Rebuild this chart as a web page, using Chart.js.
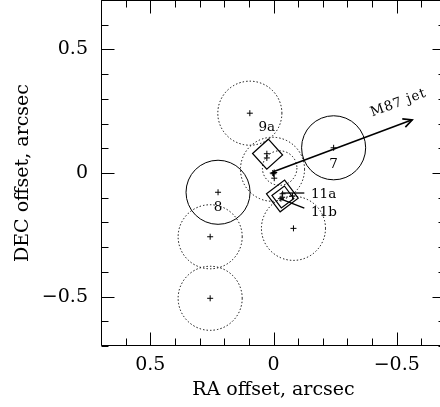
<!DOCTYPE html>
<html><head><meta charset="utf-8">
<script src="https://cdn.jsdelivr.net/npm/chart.js@4/dist/chart.umd.min.js"></script>
<style>
html,body{margin:0;padding:0;background:#fff;overflow:hidden;}
#wrap{position:absolute;left:0;top:0;width:450px;height:407px;}
</style></head><body>
<div id="wrap"><canvas id="c"></canvas></div>
<script>
// ---- data (arcsec offsets) ----
const dottedCircleX = [0.096, 0.004, -0.025, 0.257, 0.257, -0.081];
const dottedCircleY = [0.242, 0.015, 0.020, -0.258, -0.507, -0.224];
const dottedCircleR = [0.13, 0.13, 0.07, 0.13, 0.13, 0.13];

const solidCircleX = [-0.244, 0.225];
const solidCircleY = [0.102, -0.078];
const solidCircleR = [0.13, 0.13];

const crossX = [0.096, -0.244, 0.225, 0.257, 0.257, -0.081, 0.027, 0.027, 0.000, 0.003, -0.003, -0.003, -0.037, -0.030, -0.077, -0.035];
const crossY = [0.242, 0.102, -0.078, -0.258, -0.507, -0.224, 0.078, 0.061, -0.003, 0.000, 0.002, -0.021, -0.084, -0.104, -0.093, -0.098];

const diamondX = [0.024, -0.036, -0.038];
const diamondY = [0.076, -0.093, -0.097];
const diamondHalf = [0.061, 0.065, 0.045];
const diamondRot = [3, 8, 8];

const jetX = [0.001, -0.563];
const jetY = [0.005, 0.215];
const jetLabel = 'M87 jet';
const jetLabelX = -0.507;
const jetLabelY = 0.283;

const pointer11aX = [-0.031, -0.125];
const pointer11aY = [-0.081, -0.081];
const pointer11bX = [-0.031, -0.125];
const pointer11bY = [-0.106, -0.142];

const labelText = ['7', '8', '9a', '11a', '11b'];
const labelX = [-0.244, 0.225, 0.027, -0.152, -0.152];
const labelY = [0.035, -0.139, 0.183, -0.089, -0.159];
const labelAlign = ['center', 'center', 'center', 'left', 'left'];

const xTickValues = [0.5, 0, -0.5];
const xTickText = ['0.5', '0', '\u22120.5'];
const yTickValues = [0.5, 0, -0.5];
const yTickText = ['0.5', '0', '\u22120.5'];
const xTitle = 'RA offset, arcsec';
const yTitle = 'DEC offset, arcsec';

// ---- build ----
const zip = (xs, ys, rs) => xs.map((x, i) => ({x, y: ys[i], rr: rs ? rs[i] : 0}));
const pxRadius = ctx => {
  const s = ctx.chart.scales.x;
  const d = ctx.raw;
  return Math.abs(s.getPixelForValue(d.x + d.rr) - s.getPixelForValue(d.x));
};

const FONT = "'DejaVu Serif'";
Chart.defaults.font.family = FONT;
Chart.defaults.color = '#000';

const ticksPlugin = {
  id: 'frameTicks',
  afterDraw(chart) {
    const {ctx, chartArea: a, scales: {x, y}} = chart;
    ctx.save();
    ctx.strokeStyle = '#000';
    ctx.lineWidth = 1;
    ctx.beginPath();
    const L = Math.round(a.left) + 0.5, R = Math.round(a.right) - 0.5;
    const T = Math.round(a.top) + 0.5, B = Math.round(a.bottom) - 0.5;
    ctx.rect(L, T, R - L, B - T);
    const isMajor = v => Math.abs(v * 2 - Math.round(v * 2)) < 1e-6;
    x.ticks.forEach(t => {
      const p = Math.round(x.getPixelForValue(t.value)) + 0.5;
      const len = isMajor(t.value) ? 13 : 7;
      ctx.moveTo(p, B); ctx.lineTo(p, B - len);
      ctx.moveTo(p, T); ctx.lineTo(p, T + len);
    });
    y.ticks.forEach(t => {
      const p = Math.round(y.getPixelForValue(t.value)) + 0.5;
      const len = isMajor(t.value) ? 13 : 7;
      ctx.moveTo(L, p); ctx.lineTo(L + len, p);
      ctx.moveTo(R, p); ctx.lineTo(R - len, p);
    });
    ctx.stroke();
    ctx.restore();
  }
};

const dashPlugin = {
  id: 'dotted',
  beforeDatasetDraw(chart, args) {
    if (chart.data.datasets[args.index].dotted) {
      chart.ctx.save();
      chart.ctx.setLineDash([1.4, 2.1]);
    }
  },
  afterDatasetDraw(chart, args) {
    if (chart.data.datasets[args.index].dotted) chart.ctx.restore();
  }
};

const annotPlugin = {
  id: 'annot',
  afterDatasetsDraw(chart) {
    const {ctx, scales: {x, y}} = chart;
    ctx.save();
    // arrow head
    const x0 = x.getPixelForValue(jetX[0]), y0 = y.getPixelForValue(jetY[0]);
    const x1 = x.getPixelForValue(jetX[1]), y1 = y.getPixelForValue(jetY[1]);
    const ang = Math.atan2(y1 - y0, x1 - x0);
    const hl = 10, ha = 26 * Math.PI / 180;
    ctx.strokeStyle = '#000';
    ctx.lineWidth = 1.6;
    ctx.beginPath();
    ctx.moveTo(x1 - hl * Math.cos(ang - ha), y1 - hl * Math.sin(ang - ha));
    ctx.lineTo(x1, y1);
    ctx.lineTo(x1 - hl * Math.cos(ang + ha), y1 - hl * Math.sin(ang + ha));
    ctx.stroke();
    // jet label
    ctx.fillStyle = '#000';
    ctx.save();
    ctx.translate(x.getPixelForValue(jetLabelX), y.getPixelForValue(jetLabelY));
    ctx.rotate(ang);
    ctx.font = '13.5px ' + FONT;
    try { ctx.letterSpacing = '0.8px'; } catch (e) {}
    ctx.textAlign = 'center';
    ctx.textBaseline = 'middle';
    ctx.fillText(jetLabel, 0, 0);
    ctx.restore();
    // labels
    ctx.font = '13.5px ' + FONT;
    ctx.textBaseline = 'middle';
    labelText.forEach((t, i) => {
      ctx.textAlign = labelAlign[i];
      ctx.fillText(t, x.getPixelForValue(labelX[i]), y.getPixelForValue(labelY[i]));
    });
    ctx.restore();
  }
};

const tickCb = (vals, texts) => v => {
  const i = vals.findIndex(t => Math.abs(t - v) < 1e-6);
  return i >= 0 ? texts[i] : '';
};

new Chart(document.getElementById('c'), {
  type: 'scatter',
  data: {
    datasets: [
      {data: zip(dottedCircleX, dottedCircleY, dottedCircleR), dotted: true, pointStyle: 'circle',
       radius: pxRadius, borderColor: '#000', borderWidth: 1, backgroundColor: 'rgba(0,0,0,0)'},
      {data: zip(solidCircleX, solidCircleY, solidCircleR), pointStyle: 'circle',
       radius: pxRadius, borderColor: '#000', borderWidth: 1, backgroundColor: 'rgba(0,0,0,0)'},
      {data: diamondX.map((v, i) => ({x: v, y: diamondY[i], rr: diamondHalf[i], rot: diamondRot[i]})),
       pointStyle: 'rectRot', radius: pxRadius, rotation: ctx => ctx.raw.rot,
       borderColor: '#000', borderWidth: 1.2, backgroundColor: 'rgba(0,0,0,0)'},
      {data: zip(crossX, crossY), pointStyle: 'cross', radius: 3, borderColor: '#000', borderWidth: 1},
      {data: zip(jetX, jetY), showLine: true, pointRadius: 0, borderColor: '#000', borderWidth: 1.6},
      {data: zip(pointer11aX, pointer11aY), showLine: true, pointRadius: 0, borderColor: '#000', borderWidth: 1.3},
      {data: zip(pointer11bX, pointer11bY), showLine: true, pointRadius: 0, borderColor: '#000', borderWidth: 1.3}
    ]
  },
  options: {
    responsive: true,
    maintainAspectRatio: false,
    animation: false,
    events: [],
    layout: {autoPadding: false, padding: {left: 0, right: 4, top: 0, bottom: 0}},
    plugins: {legend: {display: false}, tooltip: {enabled: false}},
    scales: {
      x: {
        type: 'linear', reverse: true, min: -0.7, max: 0.7,
        grid: {display: false}, border: {display: false},
        ticks: {stepSize: 0.1, autoSkip: false, maxRotation: 0, padding: 0,
                font: {size: 19}, color: '#000', callback: tickCb(xTickValues, xTickText)},
        title: {display: true, text: xTitle, font: {size: 19}, color: '#000', padding: {top: 0, bottom: 6}},
        afterFit: s => { s.height = 61; s.paddingLeft = 0; s.paddingRight = 0; }
      },
      y: {
        type: 'linear', min: -0.7, max: 0.7,
        grid: {display: false}, border: {display: false},
        ticks: {stepSize: 0.1, autoSkip: false, padding: 5,
                font: {size: 19}, color: '#000', callback: tickCb(yTickValues, yTickText)},
        title: {display: true, text: yTitle, font: {size: 19}, color: '#000', padding: {top: 12, bottom: 0}},
        afterFit: s => { s.width = 101; s.paddingTop = 0; s.paddingBottom = 0; }
      }
    }
  },
  plugins: [dashPlugin, ticksPlugin, annotPlugin]
});
</script>
</body></html>
